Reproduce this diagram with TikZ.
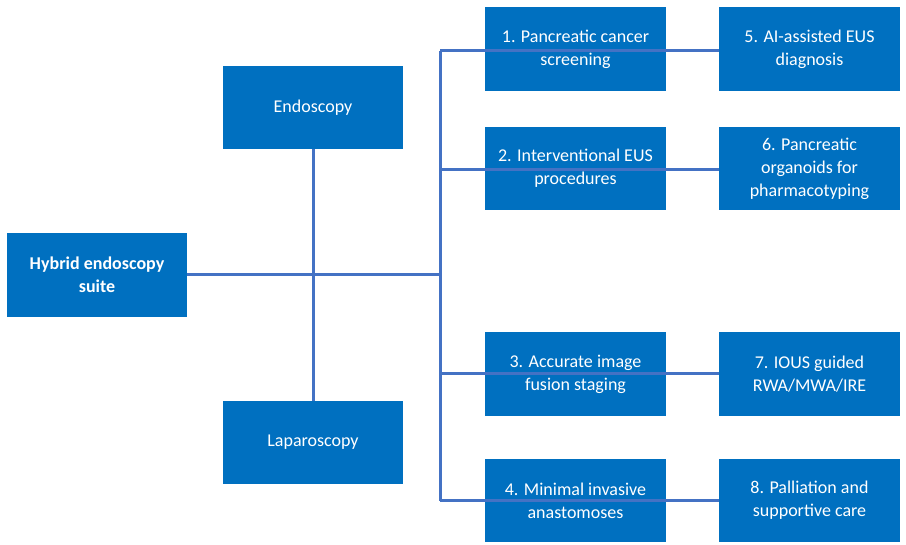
\documentclass[tikz,border=0pt]{standalone}
\usepackage{fontspec}
\setmainfont{Carlito}
\definecolor{boxblue}{HTML}{0070C0}
\definecolor{lineblue}{HTML}{4472C4}
\begin{document}
\begin{tikzpicture}[x=1pt,y=-1pt,
  box/.style={fill=boxblue,draw=none,text=white,align=center,font=\fontsize{18}{23}\selectfont,inner sep=0pt},
  conn/.style={draw=lineblue,line width=3pt}]
\useasboundingbox (0,0) rectangle (906,545);
\node[box,minimum width=180pt,minimum height=84pt,font=\fontsize{18}{23}\selectfont\bfseries] (hyb) at (97,275) {Hybrid endoscopy\\suite};
\node[box,minimum width=180pt,minimum height=83pt] (endo) at (313,107.5) {Endoscopy};
\node[box,minimum width=180pt,minimum height=83pt] (lap) at (313,442.5) {Laparoscopy};
\node[box,minimum width=181pt,minimum height=84pt] (n1) at (575.5,49) {1. Pancreatic cancer\\screening};
\node[box,minimum width=181pt,minimum height=83pt] (n2) at (575.5,168.5) {2. Interventional EUS\\procedures};
\node[box,minimum width=181pt,minimum height=84pt] (n3) at (575.5,374) {3. Accurate image\\fusion staging};
\node[box,minimum width=181pt,minimum height=83pt] (n4) at (575.5,500.5) {4. Minimal invasive\\anastomoses};
\node[box,minimum width=181pt,minimum height=84pt] (n5) at (809.5,49) {5. AI-assisted EUS\\diagnosis};
\node[box,minimum width=181pt,minimum height=83pt] (n6) at (809.5,168.5) {6. Pancreatic\\organoids for\\pharmacotyping};
\node[box,minimum width=181pt,minimum height=84pt] (n7) at (809.5,374) {7. IOUS guided\\RWA/MWA/IRE};
\node[box,minimum width=181pt,minimum height=83pt] (n8) at (809.5,500.5) {8. Palliation and\\supportive care};
\coordinate (b1) at (440,51);
\coordinate (b2) at (440,170);
\coordinate (b3) at (440,374);
\coordinate (b4) at (440,501);
\coordinate (bh) at (440,275);
\draw[conn] (endo.south) -- (lap.north);
\draw[conn] (hyb.east) -- (bh);
\draw[conn] (b1) -- (b4);
\draw[conn] (b1) -- (b1 -| n5.west);
\draw[conn] (b2) -- (b2 -| n6.west);
\draw[conn] (b3) -- (b3 -| n7.west);
\draw[conn] (b4) -- (b4 -| n8.west);
\end{tikzpicture}
\end{document}
